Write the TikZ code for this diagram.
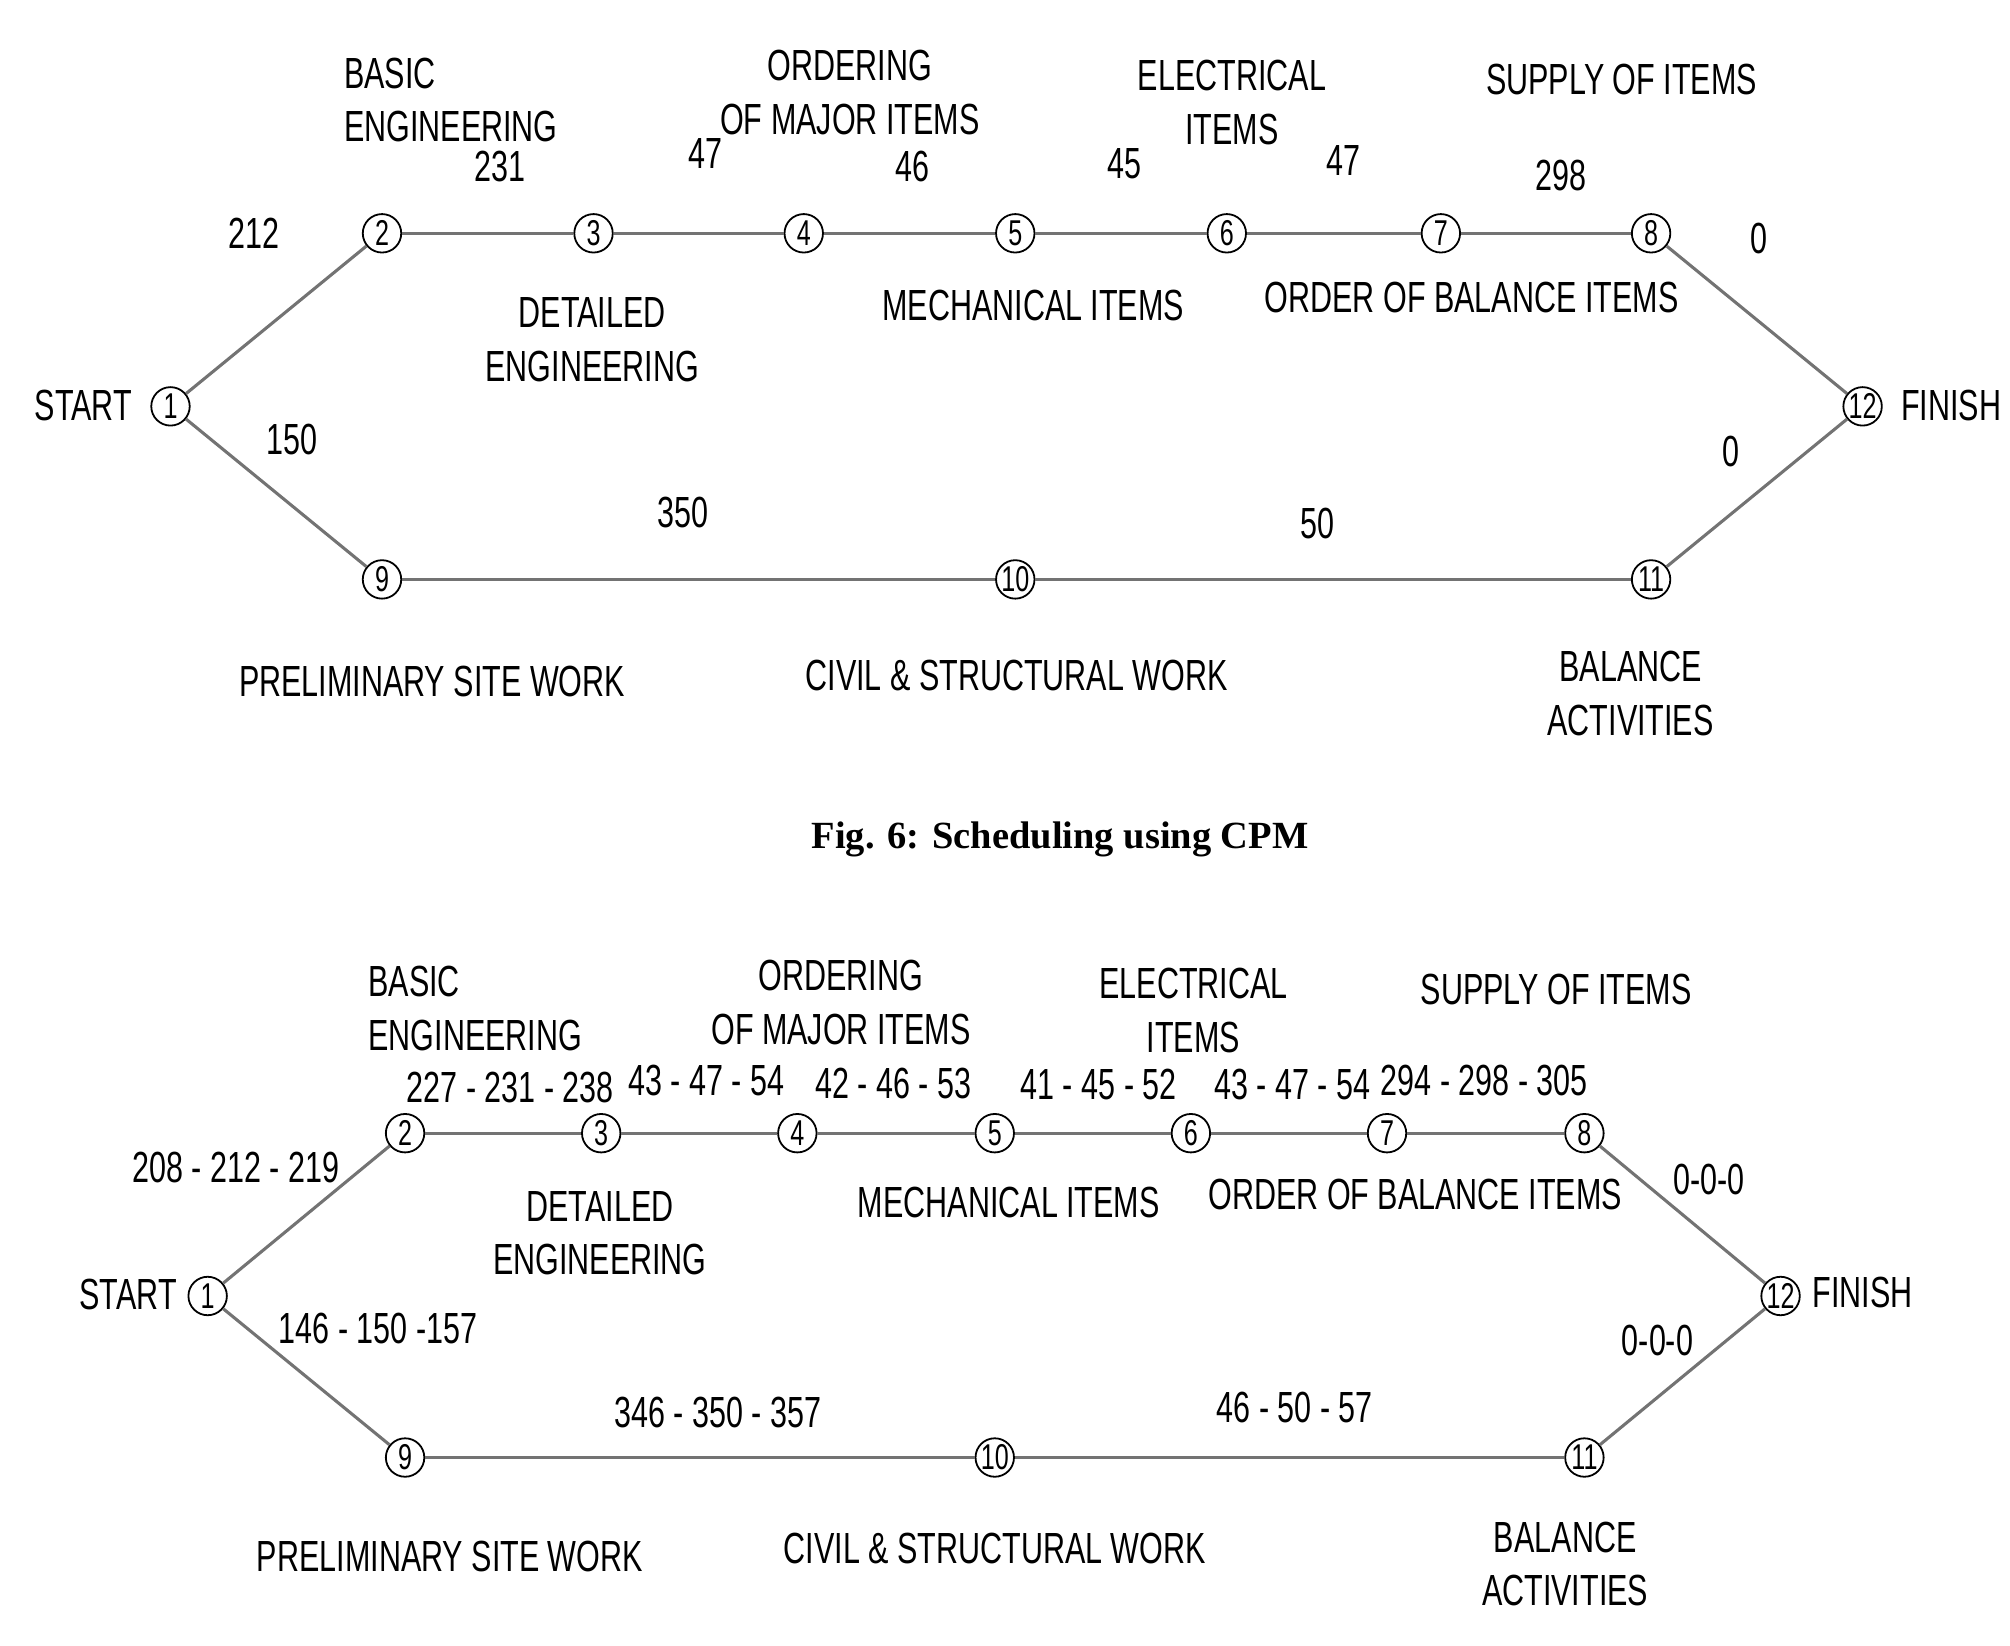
\documentclass[tikz,border=0pt]{standalone}
\usepackage{fontspec}
\setmainfont{Liberation Sans}[FakeStretch=0.7]
\newfontfamily\capfont{Liberation Serif}
\begin{document}
\begin{tikzpicture}[x=0.5pt,y=-0.5pt,
    evt/.style={circle,draw,line width=0.7pt,minimum size=15pt,inner sep=0pt,font=\fontsize{14}{14}\selectfont},
    lbl/.style={font=\fontsize{17}{21}\selectfont,align=center,inner sep=0pt},
    act/.style={draw=black!55,line width=1.2pt}]
  \useasboundingbox (0,0) rectangle (1568,1284);

  % ---- CPM network
  \foreach \n/\x/\y in {1/133/317,2/298/182,3/463/182,4/627/182,5/792/182,6/957/182,
      7/1124/182,8/1288/182,12/1453/317,9/298/452,10/792/452,11/1288/452}
    \node[evt] (a\n) at (\x,\y) {\n};
  \foreach \p/\q in {1/2,2/3,3/4,4/5,5/6,6/7,7/8,8/12,1/9,9/10,10/11,11/12}
    \draw[act] (a\p) -- (a\q);

  \node[lbl] at (65,316) {START};
  \node[lbl] at (1522,316) {FINISH};
  \node[lbl,align=left,anchor=west] at (268,78) {BASIC\\ENGINEERING};
  \node[lbl] at (390,130) {231};
  \node[lbl] at (198,182) {212};
  \node[lbl] at (550,120) {47};
  \node[lbl] at (663,72) {ORDERING\\OF MAJOR ITEMS};
  \node[lbl] at (712,130) {46};
  \node[lbl] at (877,128) {45};
  \node[lbl] at (961,80) {ELECTRICAL\\ITEMS};
  \node[lbl] at (1048,125) {47};
  \node[lbl] at (1265,62) {SUPPLY OF ITEMS};
  \node[lbl] at (1218,137) {298};
  \node[lbl] at (1372,186) {0};
  \node[lbl] at (462,265) {DETAILED\\ENGINEERING};
  \node[lbl] at (806,238) {MECHANICAL ITEMS};
  \node[lbl] at (1148,232) {ORDER OF BALANCE ITEMS};
  \node[lbl] at (228,343) {150};
  \node[lbl] at (533,400) {350};
  \node[lbl] at (1028,408) {50};
  \node[lbl] at (1350,352) {0};
  \node[lbl] at (337,532) {PRELIMINARY SITE WORK};
  \node[lbl] at (793,527) {CIVIL \& STRUCTURAL WORK};
  \node[lbl] at (1272,541) {BALANCE\\ACTIVITIES};

  \node[font=\capfont\bfseries\fontsize{15}{15}\selectfont] at (827,655) {Fig. 6: Scheduling using CPM};

  % ---- PERT network
  \foreach \n/\x/\y in {1/162/1011,2/316/884,3/469/884,4/622/884,5/776/884,6/929/884,
      7/1082/884,8/1236/884,12/1389/1011,9/316/1137,10/776/1137,11/1236/1137}
    \node[evt] (b\n) at (\x,\y) {\n};
  \foreach \p/\q in {1/2,2/3,3/4,4/5,5/6,6/7,7/8,8/12,1/9,9/10,10/11,11/12}
    \draw[act] (b\p) -- (b\q);

  \node[lbl] at (100,1010) {START};
  \node[lbl] at (1453,1008) {FINISH};
  \node[lbl,align=left,anchor=west] at (287,787) {BASIC\\ENGINEERING};
  \node[lbl] at (398,848) {227 - 231 - 238};
  \node[lbl] at (184,911) {208 - 212 - 219};
  \node[lbl] at (551,843) {43 - 47 - 54};
  \node[lbl] at (656,782) {ORDERING\\OF MAJOR ITEMS};
  \node[lbl] at (697,845) {42 - 46 - 53};
  \node[lbl] at (857,846) {41 - 45 - 52};
  \node[lbl] at (931,788) {ELECTRICAL\\ITEMS};
  \node[lbl] at (1008,846) {43 - 47 - 54};
  \node[lbl] at (1214,772) {SUPPLY OF ITEMS};
  \node[lbl] at (1158,843) {294 - 298 - 305};
  \node[lbl] at (1333,920) {0-0-0};
  \node[lbl] at (468,962) {DETAILED\\ENGINEERING};
  \node[lbl] at (787,938) {MECHANICAL ITEMS};
  \node[lbl] at (1104,932) {ORDER OF BALANCE ITEMS};
  \node[lbl] at (295,1036) {146 - 150 -157};
  \node[lbl] at (1293,1046) {0-0-0};
  \node[lbl] at (560,1102) {346 - 350 - 357};
  \node[lbl] at (1010,1098) {46 - 50 - 57};
  \node[lbl] at (351,1214) {PRELIMINARY SITE WORK};
  \node[lbl] at (776,1208) {CIVIL \& STRUCTURAL WORK};
  \node[lbl] at (1221,1220) {BALANCE\\ACTIVITIES};
\end{tikzpicture}
\end{document}
